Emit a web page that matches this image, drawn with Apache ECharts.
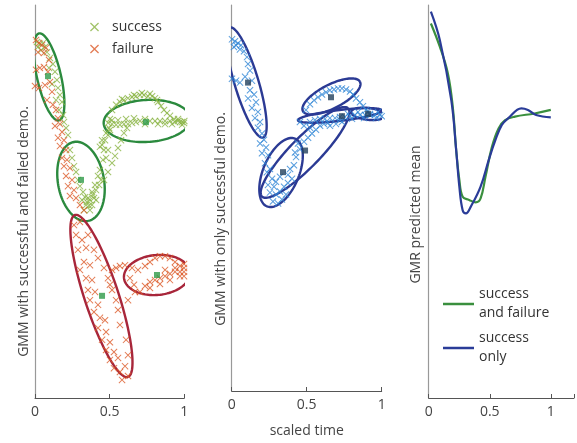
<!DOCTYPE html>
<html><head><meta charset="utf-8">
<script src="https://cdn.jsdelivr.net/npm/echarts@6/dist/echarts.min.js"></script>
<style>html,body{margin:0;padding:0;background:#fff}#c{width:577px;height:443px}</style>
</head><body><div id="c"></div>
<script>
// ---------- data ----------
const xTickLabels = ['0', '0.5', '1'];
const yAxisNames = ['GMM with successful and failed demo.', 'GMM with only successful demo.', 'GMR predicted mean'];
const xAxisName = 'scaled time';

// panel 1: demonstrations [scaled time, value]
const successPts = [
[.013,90.6],[.033,90.1],[.054,90.3],[.02,89.3],[.067,89.3],[.04,88.5],[.08,88.0],[.10,86.5],[.12,85.0],[.094,84.0],
[.134,83.0],[.147,80.9],[.114,79.9],[.154,78.9],[.167,77.1],[.141,75.8],[.181,75.3],[.161,73.3],[.188,72.0],[.194,70.2],
[.208,68.7],[.221,66.9],[.234,63.1],[.248,61.1],[.261,59.0],[.275,57.5],[.288,55.5],[.301,53.9],[.322,52.4],[.335,51.1],
[.348,49.9],[.362,48.9],[.328,47.8],[.355,50.9],[.315,50.4],[.368,50.4],[.388,51.7],[.409,52.9],[.429,54.2],[.442,55.5],
[.422,56.5],[.435,58.0],[.455,60.6],[.462,63.1],[.449,64.4],[.469,65.6],[.489,66.9],[.502,68.2],[.402,54.2],[.382,52.4],
[.476,61.1],[.489,63.1],[.435,63.9],[.496,68.7],[.516,70.7],[.382,49.1],[.409,50.4],[.342,49.1],[.368,47.8],[.395,50.9],
[.462,55.5],[.489,57.5],[.516,59.8],[.536,61.6],[.556,63.6],[.576,65.6],[.596,67.4],[.616,68.7],
[.516,73.3],[.543,74.6],[.569,75.3],[.596,75.8],[.623,76.3],[.65,76.6],[.676,76.8],[.703,77.1],[.73,77.1],[.757,76.8],
[.784,76.8],[.804,76.3],[.824,75.3],[.844,74.3],[.864,73.3],[.884,72.5],[.904,71.8],[.931,71.0],[.958,70.5],[.985,70.2],
[.583,76.1],[.663,77.1],[.716,77.6],[.77,77.4],[.817,75.8],
[.489,70.0],[.516,69.7],[.543,69.5],[.569,69.5],[.596,69.7],[.623,69.7],[.65,70.0],[.676,70.2],[.703,70.5],[.77,70.5],
[.804,70.5],[.837,70.5],[.871,70.5],[.904,70.5],[.938,70.2],[.971,70.2],[.998,70.0],[.502,71.0],[.556,70.7],[.61,71.0],
[.663,71.2],[.737,69.7],[.824,69.7],[.918,69.7],[.985,69.5],[.958,71.0],[1.0,70.5],[.737,71.0],[.871,69.7],
[.449,65.6],[.476,67.4]
];
const failurePts = [
[.007,91.1],[.027,90.3],[.047,89.8],[.074,89.1],[.02,88.0],[.06,87.8],[.094,86.0],[.007,83.5],[.033,84.0],[.06,84.2],
[.087,83.0],[0,79.4],[.027,78.9],[.067,79.6],[.10,80.4],[.114,77.9],[.08,75.8],[.12,74.6],[.141,73.3],[.154,71.2],
[.134,69.2],[.167,69.7],[.181,67.7],[.154,66.2],[.194,65.6],[.167,64.1],[.208,63.1],[.181,61.1],[.214,60.6],[.194,59.0],
[.234,58.5],[.208,56.5],[.248,55.5],[.221,53.9],[.261,52.9],[.234,51.4],[.275,50.9],[.301,49.1],[.328,47.8],
[.261,44.0],[.301,44.8],[.275,41.5],[.315,40.2],[.288,37.7],[.342,38.2],[.328,34.6],[.368,33.8],[.301,32.6],[.342,30.5],
[.382,30.0],[.355,27.5],[.402,27.0],[.368,24.9],[.422,23.7],[.395,21.9],[.435,20.4],[.469,19.8],[.422,17.8],[.476,16.8],
[.449,14.8],[.502,14.2],[.476,12.2],[.529,11.7],[.502,9.7],[.556,10.2],[.529,7.6],[.569,6.6],[.603,8.1],[.583,4.6],
[.623,5.6],[.623,10.9],[.61,14.8],[.569,18.6],[.556,22.4],[.543,24.9],[.516,27.5],[.489,30.5],[.462,33.1],[.422,35.6],
[.355,41.5],[.395,37.7],
[.502,28.8],[.516,32.6],[.543,33.1],[.569,33.6],[.603,33.8],[.65,33.1],[.69,32.6],[.737,33.6],[.77,34.6],[.804,35.6],
[.837,36.1],[.871,36.1],[.904,35.6],[.938,34.6],[.971,33.6],[.998,33.1],
[.703,27.0],[.737,28.5],[.77,29.5],[.804,30.0],[.837,30.5],[.871,31.0],[.904,31.6],[.938,32.1],[.971,32.1],[.998,32.1],
[.77,28.0],[.837,29.0],[.904,30.0],[.971,31.0],[.998,31.0],[.871,32.6],[.938,33.1],[.998,34.1],[.636,30.5],[.663,28.8],
[.623,24.9],[.67,27.0]
];
// Gaussian components: [centerX, centerY, axis1X, axis1Y, axis2X, axis2Y]
const mixEllipsesSuccess = [
[.094,81.7,.067,-11.07,-.078,-.69],
[.308,55.1,.047,-10.05,-.152,-1.02],
[.75,70.5,.29,.61,.0074,-5.34]
];
const mixEllipsesFailure = [
[.445,25.95,.1775,-20.61,-.1085,-1.35],
[.817,31.3,.221,.74,.0114,-5.06]
];
const mixCenters = [[.087,81.9],[.308,55.5],[.743,70.2],[.449,26.0],[.817,31.3]];

// panel 2: successful demonstrations only
const onlyPts = [
[.002,91.1],[.022,90.6],[.042,90.1],[.062,89.6],[.015,89.1],[.055,88.5],[.082,88.0],[.102,86.5],[.029,89.6],[.002,80.9],
[.029,80.4],[.055,79.9],[.109,84.7],[.122,83.0],[.089,81.4],[.135,80.4],[.122,77.9],[.149,76.8],[.109,75.8],[.162,74.8],
[.135,73.3],[.175,72.3],[.155,70.7],[.189,69.7],[.175,68.2],[.202,66.7],[.215,65.1],[.189,64.1],[.229,63.1],[.202,61.6],
[.242,61.1],[.222,59.0],
[.235,56.7],[.255,57.5],[.269,55.0],[.242,53.4],[.282,52.9],[.255,51.4],[.295,50.9],[.275,49.1],[.309,48.6],[.335,49.6],
[.362,50.9],[.322,51.7],[.349,52.9],[.375,53.9],[.402,55.0],[.389,57.5],[.415,58.5],[.375,56.0],[.295,54.2],[.322,55.5],
[.429,60.6],[.455,62.6],[.442,64.1],[.482,64.6],[.509,65.6],[.535,66.7],[.562,67.7],[.522,68.2],[.589,68.7],[.615,69.2],
[.642,69.5],[.482,68.7],[.455,69.7],[.422,61.8],[.655,68.7],[.695,69.2],[.735,69.7],
[.495,72.8],[.522,74.3],[.549,75.3],[.575,76.1],[.602,76.8],[.629,77.4],[.655,77.9],[.682,78.1],[.709,78.4],[.735,78.4],
[.762,78.1],[.789,77.6],[.809,76.8],[.829,75.8],[.855,74.8],[.875,73.8],[.895,72.8],[.922,71.8],
[.522,69.7],[.555,70.2],[.589,70.5],[.622,70.5],[.655,70.7],[.689,70.7],[.722,71.0],[.755,71.0],[.789,71.2],[.822,71.5],
[.855,71.5],[.889,71.5],[.922,71.5],[.955,71.5],[.989,71.5],[1.0,71.2],[.775,71.8],[.842,72.3],[.909,72.5],[.975,72.3],
[.722,70.2],[.802,70.5],[.882,70.7],[.962,70.7]
];
const onlyEllipses = [
[.099,79.9,.11,-14.25,-.0767,-.865],
[.329,56.6,.0933,8.78,.111,-1.73],
[.489,61.8,.287,11.45,.0727,-2.65],
[.665,76.3,.19,3.82,.0373,-2.70],
[.722,71.4,.28,1.27,.004,-1.40],
[.909,71.8,.113,-.51,-.0047,-1.53]
];
const onlyCenters = [[.109,79.9],[.342,56.7],[.489,62.3],[.662,76.1],[.735,71.2],[.909,71.8]];

// panel 3: GMR predicted mean
const gmrBoth = [
[.018,95.3],[.091,89.4],[.157,82.6],[.197,74.1],[.225,63.1],[.251,55.5],[.278,51.2],[.331,50.4],[.385,49.8],[.425,50.8],
[.465,56.3],[.518,63.9],[.572,68.6],[.626,70.7],[.706,71.6],[.867,72.4],[1.0,73.3]
];
const gmrOnly = [
[.018,98.3],[.091,91.1],[.185,75.8],[.225,63.1],[.251,53.8],[.278,47.8],[.305,47.0],[.345,48.7],[.425,53.8],[.492,60.6],
[.546,65.6],[.599,69.5],[.652,71.2],[.759,73.7],[.813,73.3],[.88,72.0],[1.0,71.4]
];

// ---------- chart ----------
const FONT = 'Open Sans';
const X_SYMBOL = 'path://M0,1L1,0L5,4L9,0L10,1L6,5L10,9L9,10L5,6L1,10L0,9L4,5Z';
const grids = [
  {left: 35, top: 5, width: 149.3, height: 393},
  {left: 231.7, top: 5, width: 150, height: 393},
  {left: 428.7, top: 5, width: 148.3, height: 393}
];
const nameShift = [60, 42, 26];
const nameGaps = [4, 4, 6];
const xMax = [1, 1, 1.19];

function ellipseRender(color) {
  return function (params, api) {
    const cx = api.value(0), cy = api.value(1), ax = api.value(2), ay = api.value(3), bx = api.value(4), by = api.value(5);
    const pts = [];
    for (let i = 0; i <= 120; i++) {
      const t = i / 120 * 2 * Math.PI;
      pts.push(api.coord([cx + ax * Math.cos(t) + bx * Math.sin(t), cy + ay * Math.cos(t) + by * Math.sin(t)]));
    }
    return {type: 'polyline', shape: {points: pts}, style: {stroke: color, lineWidth: 2.4, fill: null}};
  };
}

const xAxes = grids.map((g, i) => ({
  gridIndex: i, type: 'value', min: 0, max: xMax[i], interval: 0.5,
  axisLine: {show: true, onZero: false, lineStyle: {color: '#555', width: 1}},
  axisTick: {show: true, inside: true, length: 4, lineStyle: {color: '#555'}},
  axisLabel: {show: true, fontFamily: FONT, fontSize: 14, color: '#444', margin: 7,
    formatter: v => { const k = [0, 0.5, 1].indexOf(v); return k >= 0 ? xTickLabels[k] : ''; }},
  splitLine: {show: false},
  name: i === 1 ? xAxisName : '', nameLocation: 'middle', nameGap: 33,
  nameTextStyle: {fontFamily: FONT, fontSize: 14, color: '#444'}
}));
const yAxes = grids.map((g, i) => ({
  gridIndex: i, type: 'value', min: 0, max: 100,
  axisLine: {show: true, lineStyle: {color: '#999', width: 1.2}},
  axisTick: {show: false}, axisLabel: {show: false}, splitLine: {show: false},
  name: yAxisNames[i], nameLocation: 'middle', nameGap: nameGaps[i],
  nameTextStyle: {fontFamily: FONT, fontSize: 14, color: '#444', padding: [0, nameShift[i], 0, 0]}
}));

const option = {
  animation: false,
  backgroundColor: '#fff',
  grid: grids,
  xAxis: xAxes,
  yAxis: yAxes,
  legend: [
    {data: ['success', 'failure'], orient: 'vertical', left: 85, top: 14, itemWidth: 9, itemHeight: 9, itemGap: 6,
     selectedMode: false, textStyle: {fontFamily: FONT, fontSize: 14, color: '#333', lineHeight: 16, padding: [0, 0, 0, 8]}},
    {data: ['success and failure', 'success only'], orient: 'vertical', left: 438, top: 280, itemWidth: 31, itemHeight: 2.5, itemGap: 6,
     icon: 'rect', selectedMode: false,
     formatter: n => n === 'success and failure' ? 'success\nand failure' : 'success\nonly',
     textStyle: {fontFamily: FONT, fontSize: 14, color: '#333', lineHeight: 19}}
  ],
  series: [
    {name: 'success', type: 'scatter', xAxisIndex: 0, yAxisIndex: 0, data: successPts, symbol: X_SYMBOL, symbolSize: 7,
     itemStyle: {color: '#8ab443'}},
    {name: 'failure', type: 'scatter', xAxisIndex: 0, yAxisIndex: 0, data: failurePts, symbol: X_SYMBOL, symbolSize: 7,
     itemStyle: {color: '#dc5a28'}},
    {type: 'custom', xAxisIndex: 0, yAxisIndex: 0, data: mixEllipsesSuccess, encode: {x: 0, y: 1}, clip: true,
     renderItem: ellipseRender('#2b8a3e')},
    {type: 'custom', xAxisIndex: 0, yAxisIndex: 0, data: mixEllipsesFailure, encode: {x: 0, y: 1}, clip: true,
     renderItem: ellipseRender('#a8263a')},
    {type: 'scatter', xAxisIndex: 0, yAxisIndex: 0, data: mixCenters, symbol: 'rect', symbolSize: 6,
     itemStyle: {color: '#2e9a48'}},
    {name: 'only', type: 'scatter', xAxisIndex: 1, yAxisIndex: 1, data: onlyPts, symbol: X_SYMBOL, symbolSize: 7,
     itemStyle: {color: '#2f86d6'}},
    {type: 'custom', xAxisIndex: 1, yAxisIndex: 1, data: onlyEllipses, encode: {x: 0, y: 1}, clip: true,
     renderItem: ellipseRender('#2b3a94')},
    {type: 'scatter', xAxisIndex: 1, yAxisIndex: 1, data: onlyCenters, symbol: 'rect', symbolSize: 6,
     itemStyle: {color: '#22405c'}},
    {name: 'success and failure', type: 'line', xAxisIndex: 2, yAxisIndex: 2, data: gmrBoth, smooth: 0.4, symbol: 'none',
     lineStyle: {color: '#3a8f3e', width: 2.2}, itemStyle: {color: '#3a8f3e'}},
    {name: 'success only', type: 'line', xAxisIndex: 2, yAxisIndex: 2, data: gmrOnly, smooth: 0.4, symbol: 'none',
     lineStyle: {color: '#2a3c98', width: 2.2}, itemStyle: {color: '#2a3c98'}}
  ]
};
const chart = echarts.init(document.getElementById('c'), null, {renderer: 'canvas'});
chart.setOption(option);
</script></body></html>
